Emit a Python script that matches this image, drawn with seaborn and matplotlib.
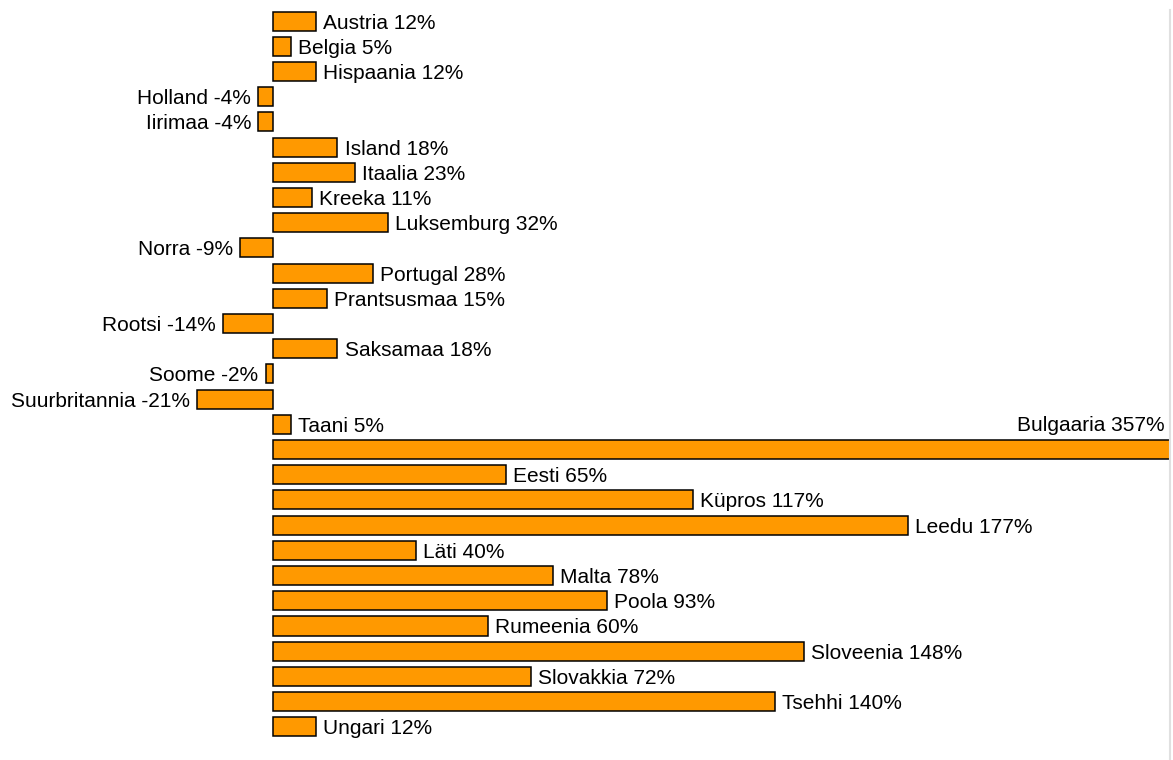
import matplotlib
matplotlib.use("Agg")
import matplotlib.pyplot as plt
import matplotlib.transforms as mtransforms
import pandas as pd
import seaborn as sns

countries = ["Austria", "Belgia", "Hispaania", "Holland", "Iirimaa", "Island",
             "Itaalia", "Kreeka", "Luksemburg", "Norra", "Portugal",
             "Prantsusmaa", "Rootsi", "Saksamaa", "Soome", "Suurbritannia",
             "Taani", "Bulgaaria", "Eesti", "Küpros", "Leedu", "Läti", "Malta",
             "Poola", "Rumeenia", "Sloveenia", "Slovakkia", "Tsehhi", "Ungari"]
change = [12, 5, 12, -4, -4, 18, 23, 11, 32, -9, 28, 15, -14, 18, -2, -21,
          5, 357, 65, 117, 177, 40, 78, 93, 60, 148, 72, 140, 12]

df = pd.DataFrame({"riik": countries, "muutus": change})

sns.set_style("white")
plt.rcParams["font.family"] = ["Liberation Sans", "DejaVu Sans"]

fig = plt.figure(figsize=(11.73, 7.6), dpi=100)
ax = fig.add_axes([0, 0, 1170 / 1173, 750 / 760])

sns.barplot(data=df, x="muutus", y="riik", orient="h", color="#FF9900",
            saturation=1, width=0.76, edgecolor="black", linewidth=1.1, ax=ax)

xmin, xmax = -76, 250
ax.set_xlim(xmin, xmax)
ax.set_ylim(len(countries) + 0.32, -0.44)

# sildid tulpade kõrvale
for i, (name, val) in enumerate(zip(countries, change)):
    label = f"{name} {val}%"
    if val > xmax:
        # liiga pikk tulp - silt üles paremasse serva
        trans = mtransforms.blended_transform_factory(ax.transAxes, ax.transData)
        ax.text(0.995, i - 1.05, label, transform=trans, ha="right",
                va="center_baseline", fontsize=15, color="black")
    elif val >= 0:
        ax.text(val + 2, i, label, ha="left", va="center_baseline",
                fontsize=15, color="black")
    else:
        ax.text(val - 2, i, label, ha="right", va="center_baseline",
                fontsize=15, color="black")

ax.set_xlabel("")
ax.set_ylabel("")
ax.set_xticks([])
ax.set_yticks([])
for side in ["top", "left", "bottom"]:
    ax.spines[side].set_visible(False)
ax.spines["right"].set_color("#e0e0e0")
ax.spines["right"].set_linewidth(1.5)

fig.savefig("out.png", dpi=100)
